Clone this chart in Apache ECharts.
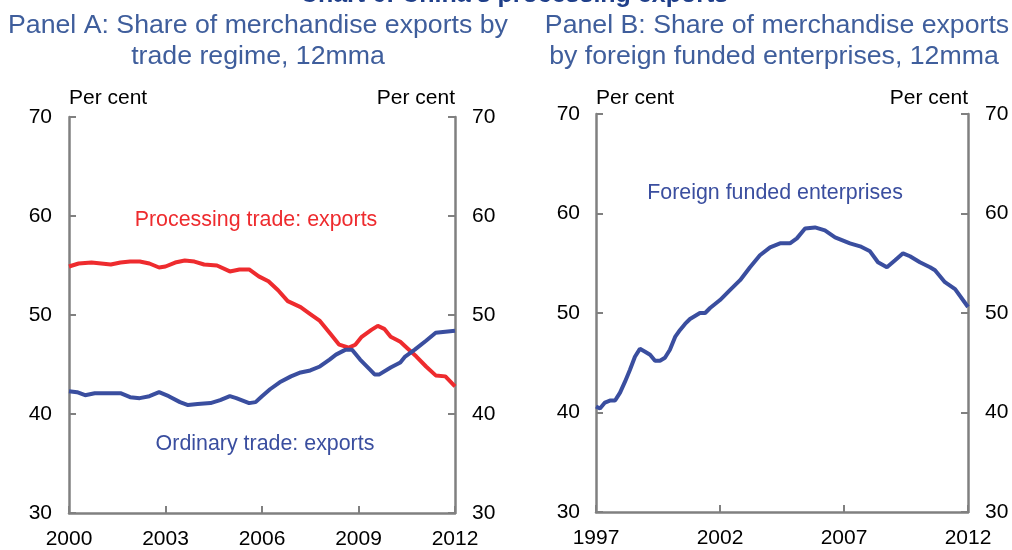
<!DOCTYPE html>
<html>
<head>
<meta charset="utf-8">
<script src="https://cdn.jsdelivr.net/npm/echarts@6/dist/echarts.min.js"></script>
<style>
html,body{margin:0;padding:0;background:#fff;}
#chart{width:1012px;height:550px;}
</style>
</head>
<body>
<div id="chart"></div>
<script>
// Panel A: processing trade exports share (decimal year, per cent)
const procYears = [2000.0,2000.3,2000.7,2001.0,2001.3,2001.6,2001.9,2002.2,2002.5,2002.8,2003.0,2003.3,2003.6,2003.9,2004.2,2004.6,2005.0,2005.3,2005.6,2005.9,2006.2,2006.5,2006.8,2007.2,2007.5,2007.8,2008.1,2008.4,2008.7,2008.9,2009.1,2009.4,2009.6,2009.8,2010.0,2010.3,2010.5,2010.8,2011.1,2011.4,2011.7,2012.0];
const procValues = [54.9,55.2,55.3,55.2,55.1,55.3,55.4,55.4,55.2,54.8,54.9,55.3,55.5,55.4,55.1,55.0,54.4,54.6,54.6,53.9,53.4,52.5,51.4,50.8,50.1,49.4,48.2,47.0,46.7,47.0,47.8,48.5,48.9,48.6,47.8,47.3,46.7,45.8,44.8,43.9,43.8,42.8];
// Panel A: ordinary trade exports share
const ordYears = [2000.0,2000.25,2000.5,2000.8,2001.1,2001.6,2001.9,2002.2,2002.5,2002.8,2003.1,2003.45,2003.7,2004.0,2004.4,2004.7,2005.0,2005.2,2005.6,2005.8,2006.0,2006.25,2006.55,2006.9,2007.2,2007.5,2007.8,2008.1,2008.3,2008.6,2008.8,2009.05,2009.35,2009.5,2009.65,2010.0,2010.3,2010.45,2010.75,2011.1,2011.4,2011.7,2012.0];
const ordValues = [42.3,42.2,41.9,42.1,42.1,42.1,41.7,41.6,41.8,42.2,41.8,41.2,40.9,41.0,41.1,41.4,41.8,41.6,41.1,41.2,41.8,42.5,43.2,43.8,44.2,44.4,44.8,45.5,46.0,46.5,46.5,45.5,44.5,44.0,44.0,44.7,45.2,45.8,46.5,47.4,48.2,48.3,48.4];
// Panel B: foreign funded enterprises share
const ffeYears = [1997.0,1997.16,1997.36,1997.56,1997.77,1997.97,1998.17,1998.37,1998.57,1998.77,1998.98,1999.18,1999.38,1999.58,1999.78,1999.98,2000.19,2000.39,2000.59,2000.79,2000.99,2001.19,2001.4,2001.6,2002.0,2002.4,2002.81,2003.21,2003.61,2004.02,2004.42,2004.82,2005.1,2005.43,2005.83,2006.23,2006.64,2006.84,2007.24,2007.65,2008.05,2008.37,2008.73,2009.06,2009.38,2009.66,2010.06,2010.47,2010.67,2011.07,2011.48,2012.0];
const ffeValues = [40.6,40.4,41.0,41.2,41.2,42.0,43.1,44.3,45.6,46.4,46.1,45.8,45.2,45.2,45.5,46.3,47.6,48.3,48.9,49.4,49.7,50.0,50.0,50.5,51.3,52.3,53.3,54.6,55.8,56.6,57.0,57.0,57.5,58.5,58.6,58.3,57.6,57.4,57.0,56.7,56.2,55.1,54.6,55.3,56.0,55.7,55.1,54.6,54.3,53.1,52.4,50.6];

const yTicks = [30, 40, 50, 60, 70];
const xTicksA = [2000, 2003, 2006, 2009, 2012];
const xTicksB = [1997, 2002, 2007, 2012];

const chartTitle = "Chart 6: China's processing exports";
const titleA = ["Panel A: Share of merchandise exports by", "trade regime, 12mma"];
const titleB = ["Panel B: Share of merchandise exports", "by foreign funded enterprises, 12mma"];
const unitLabel = "Per cent";
const procName = "Processing trade: exports";
const ordName = "Ordinary trade: exports";
const ffeName = "Foreign funded enterprises";

const FONT = "'Liberation Sans', Arial, sans-serif";
const RED = '#EE2B2E';
const BLUE = '#3A4E9F';
const TITLE_BLUE = '#3F5E9C';
const AXIS = '#808080';

function zip(xs, ys){ return xs.map((x,i)=>[x, ys[i]]); }

function yAx(gridIndex, pos, margin, gap){
  return {
    type:'value', gridIndex, position:pos,
    min: yTicks[0], max: yTicks[yTicks.length-1], interval: 10,
    name: unitLabel, nameLocation:'end', nameGap: gap,
    nameTextStyle:{ color:'#000', fontSize:21, fontFamily:FONT, align: pos==='left'?'left':'right', verticalAlign:'bottom', padding:0 },
    axisLine:{ show:true, lineStyle:{ color:AXIS, width:2.5 } },
    axisTick:{ show:true, inside:true, length:7, lineStyle:{ color:AXIS, width:2 } },
    axisLabel:{ color:'#000', fontSize:21, fontFamily:FONT, margin },
    splitLine:{ show:false }
  };
}
function xAx(gridIndex, ticks){
  return {
    type:'value', gridIndex,
    min: ticks[0], max: ticks[ticks.length-1], interval: ticks[1]-ticks[0],
    axisLine:{ show:true, onZero:false, lineStyle:{ color:AXIS, width:2.5 } },
    axisTick:{ show:true, inside:true, length:7, lineStyle:{ color:AXIS, width:2 } },
    axisLabel:{ color:'#000', fontSize:21, fontFamily:FONT, margin:16, formatter: v => String(v) },
    splitLine:{ show:false }
  };
}

const chart = echarts.init(document.getElementById('chart'), null, {renderer:'canvas'});

function textEl(str, x, y, color, size, weight){
  return { type:'text', x, y, style:{ text:str, fill:color, font:(weight||'normal')+' '+size+'px '+FONT, textAlign:'center', textVerticalAlign:'middle' } };
}

chart.setOption({
  animation:false,
  backgroundColor:'#fff',
  grid:[
    { left:69, right:1012-455, top:117, bottom:550-514 },
    { left:596, right:1012-968, top:114, bottom:550-512 }
  ],
  xAxis:[ xAx(0, xTicksA), xAx(1, xTicksB) ],
  yAxis:[ yAx(0,'left',17,8), yAx(0,'right',17,8), yAx(1,'left',16,5), yAx(1,'right',17,5) ],
  series:[
    { type:'line', name:procName, xAxisIndex:0, yAxisIndex:0, data:zip(procYears, procValues), showSymbol:false, lineStyle:{ color:RED, width:4 }, itemStyle:{color:RED}, z:3 },
    { type:'line', name:ordName, xAxisIndex:0, yAxisIndex:0, data:zip(ordYears, ordValues), showSymbol:false, lineStyle:{ color:BLUE, width:4 }, itemStyle:{color:BLUE}, z:4 },
    { type:'line', name:ffeName, xAxisIndex:1, yAxisIndex:2, data:zip(ffeYears, ffeValues), showSymbol:false, lineStyle:{ color:BLUE, width:4 }, itemStyle:{color:BLUE} }
  ],
  graphic:[
    textEl(chartTitle, 514, -5, '#1F3F8A', 25, 'bold'),
    textEl(titleA[0], 258, 26, TITLE_BLUE, 26.7),
    textEl(titleA[1], 258, 57, TITLE_BLUE, 26.7),
    textEl(titleB[0], 777, 26, TITLE_BLUE, 26.7),
    textEl(titleB[1], 774, 57, TITLE_BLUE, 26.7),
    textEl(procName, 256, 220, RED, 21.4),
    textEl(ordName, 265, 444, BLUE, 21.4),
    textEl(ffeName, 775, 193, BLUE, 21.4)
  ]
});
</script>
</body>
</html>
